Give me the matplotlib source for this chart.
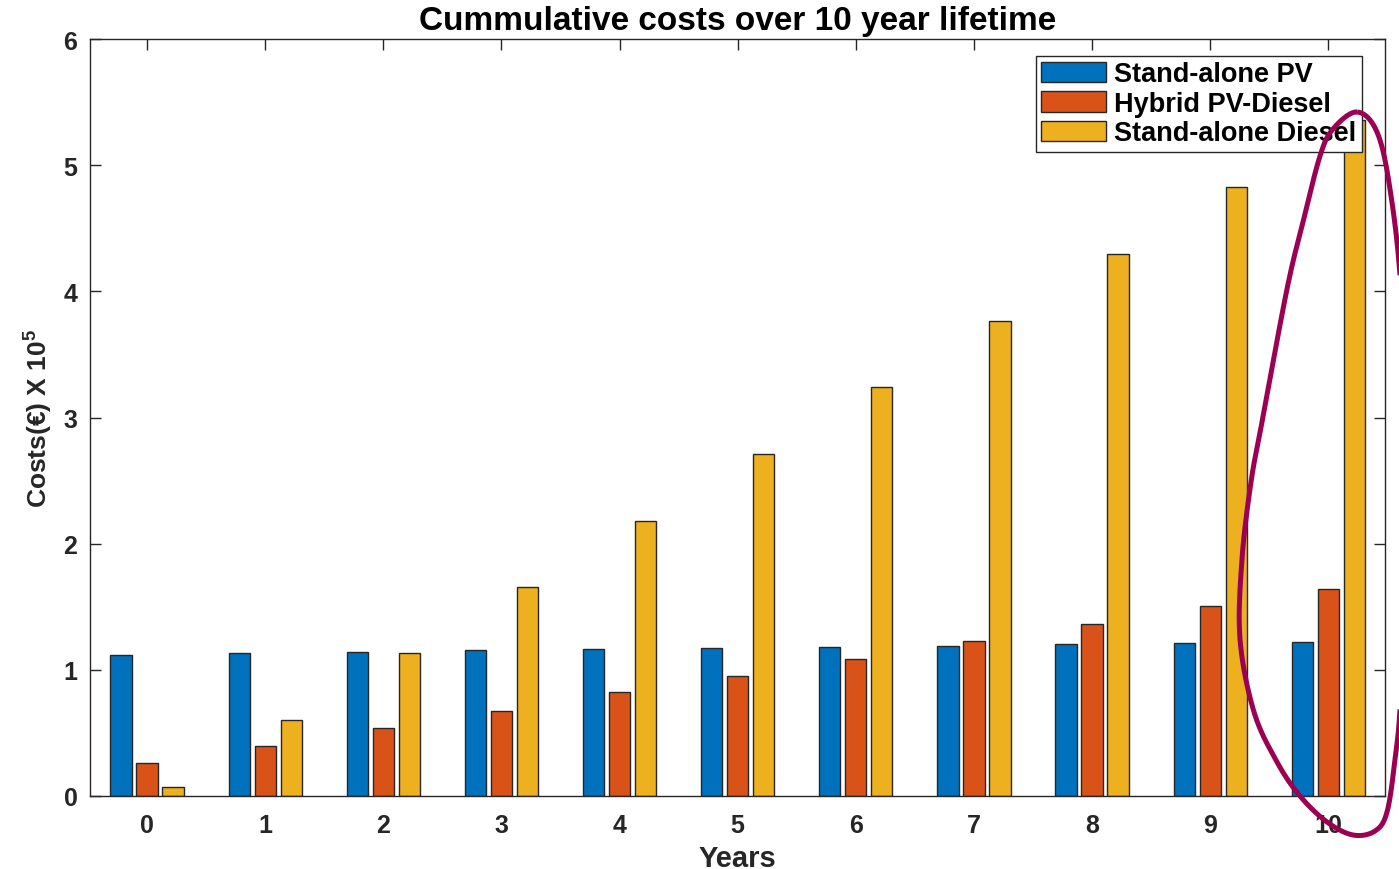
import numpy as np
import matplotlib
matplotlib.use("Agg")
import matplotlib.pyplot as plt
from matplotlib.path import Path
from matplotlib.patches import PathPatch

plt.rcParams['font.family'] = ['Liberation Sans', 'DejaVu Sans']
plt.rcParams['mathtext.fontset'] = 'custom'
plt.rcParams['mathtext.rm'] = 'Liberation Sans:bold'
plt.rcParams['mathtext.bf'] = 'Liberation Sans:bold'

# data (values in units of 10^5 EUR)
years = np.arange(0, 11)
standalone_pv = [1.12, 1.13, 1.14, 1.155, 1.165, 1.173, 1.18, 1.19, 1.205, 1.213, 1.218]
hybrid_pv_diesel = [0.264, 0.399, 0.541, 0.676, 0.824, 0.951, 1.086, 1.228, 1.363, 1.506, 1.641]
standalone_diesel = [0.069, 0.60, 1.131, 1.657, 2.18, 2.71, 3.24, 3.765, 4.296, 4.827, 5.36]
labels = ['Stand-alone PV', 'Hybrid PV-Diesel', 'Stand-alone Diesel']
colors = ['#0072BD', '#D95319', '#EDB120']

W, H = 1399, 870
fig = plt.figure(figsize=(W / 100, H / 100), dpi=100)
ax = fig.add_axes([90 / W, 1 - 797 / H, (1385 - 90) / W, (797 - 40) / H])

width = 0.18
offs = [-0.22, 0.0, 0.22]
for s, o, c, lab in zip([standalone_pv, hybrid_pv_diesel, standalone_diesel], offs, colors, labels):
    ax.bar(years + o, s, width, color=c, edgecolor='#262626', linewidth=1.0, label=lab, zorder=2)

ax.set_xlim(-0.483, 10.48)
ax.set_ylim(0, 6)
ax.set_xticks(years)
ax.set_yticks(np.arange(0, 7))
ax.tick_params(direction='in', top=True, right=True, length=8, width=1, colors='#262626',
               labelsize=18)
ax.tick_params(axis='x', pad=12)
ax.tick_params(axis='y', pad=9)
for t in ax.get_xticklabels() + ax.get_yticklabels():
    t.set_fontweight('bold')
for sp in ax.spines.values():
    sp.set_color('#262626')
    sp.set_linewidth(1.0)

ax.set_title('Cummulative costs over 10 year lifetime', fontsize=24, fontweight='bold', pad=7)
ax.set_xlabel('Years', fontsize=21, fontweight='bold', labelpad=5, color='#262626')
ax.set_ylabel('Costs(€) X 10$^\\mathbf{5}$', fontsize=19, fontweight='bold', labelpad=7,
              color='#262626')

leg = ax.legend(loc='upper right', bbox_to_anchor=(1362 / W, 1 - 57 / H),
                bbox_transform=fig.transFigure, borderaxespad=0,
                prop={'weight': 'bold', 'size': 19.5}, frameon=True, fancybox=False,
                edgecolor='#262626', framealpha=1, handlelength=2.4, handleheight=0.8,
                labelspacing=0.13, borderpad=0.2, handletextpad=0.3)
leg.get_frame().set_linewidth(1.0)

# hand-drawn highlight loop around year 10 (pixel coords, y down)
loop = np.array([
    (1357, 113), (1377, 133), (1390, 190), (1401, 290), (1410, 480), (1401, 693),
    (1395, 760), (1387, 813), (1375, 832), (1353, 836), (1327, 823), (1300, 797),
    (1277, 763), (1254, 713), (1240, 640), (1242, 560), (1251, 483), (1262, 423),
    (1287, 290), (1303, 223), (1320, 157), (1333, 130)], dtype=float)
n = len(loop)
tt = np.linspace(0, 1, 20, endpoint=False)[:, None]
curve = []
for i in range(n):
    p0, p1, p2, p3 = loop[i - 1], loop[i], loop[(i + 1) % n], loop[(i + 2) % n]
    seg = 0.5 * (2 * p1 + (-p0 + p2) * tt + (2 * p0 - 5 * p1 + 4 * p2 - p3) * tt ** 2
                 + (-p0 + 3 * p1 - 3 * p2 + p3) * tt ** 3)
    curve.append(seg)
curve = np.vstack(curve + [curve[0][:1]])
curve[:, 0] /= W
curve[:, 1] = 1 - curve[:, 1] / H
fig.add_artist(PathPatch(Path(curve), transform=fig.transFigure, fill=False,
                         edgecolor='#9C0052', linewidth=3.6, clip_on=False, zorder=10))

fig.savefig('out.png', dpi=100)
